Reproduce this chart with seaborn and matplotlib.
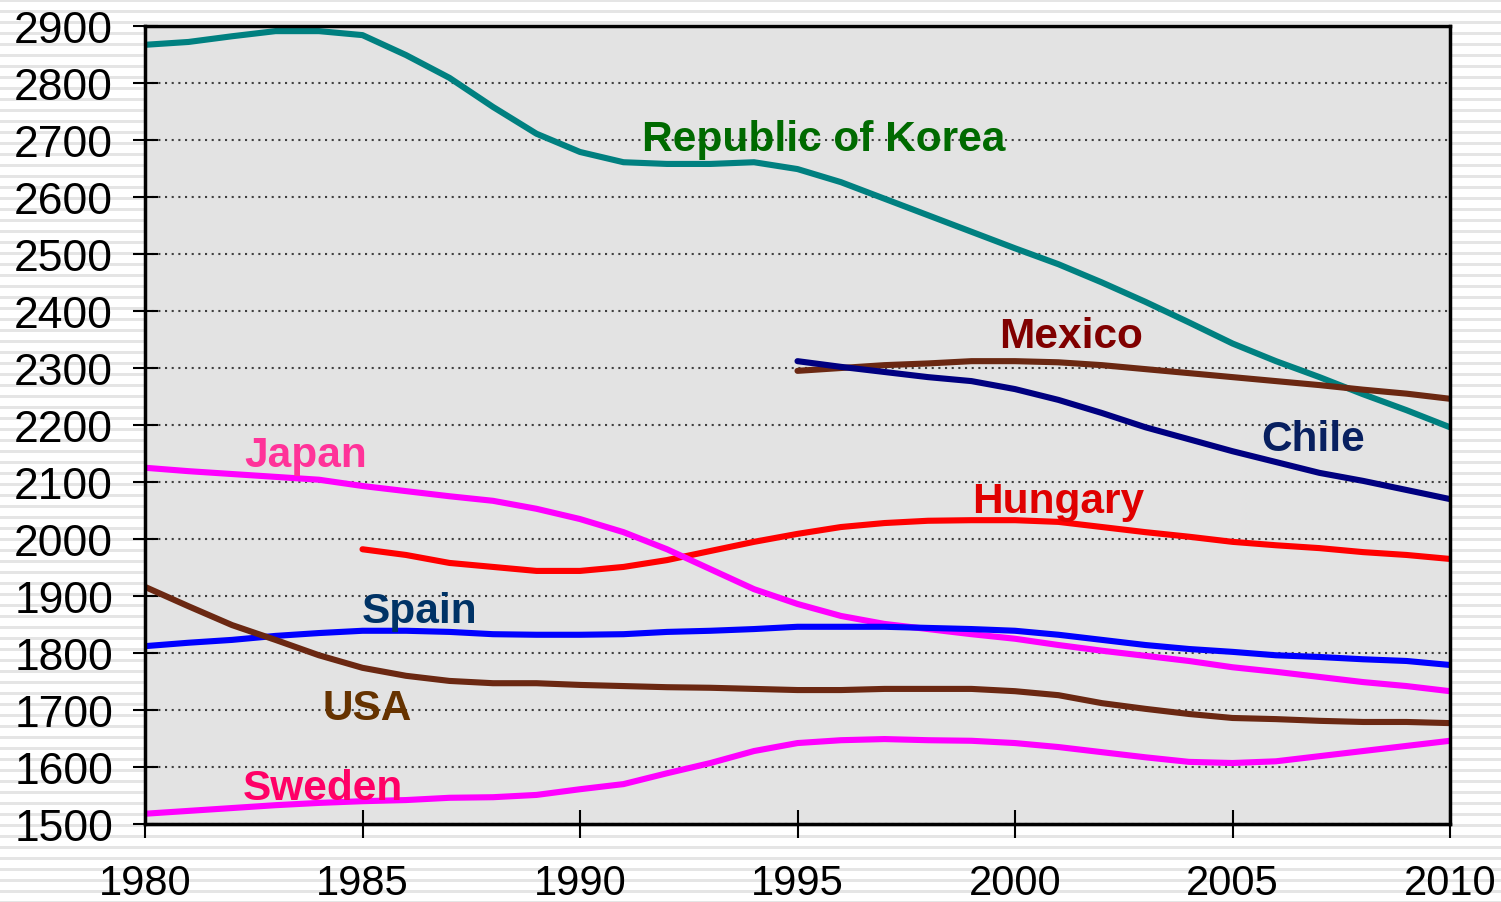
import numpy as np
import pandas as pd
import matplotlib
matplotlib.use("Agg")
import matplotlib.pyplot as plt
import seaborn as sns

years = list(range(1980, 2011))

korea = [2867, 2872, 2882, 2891, 2891, 2884, 2849, 2809, 2758, 2711, 2679, 2661, 2658, 2658, 2661,
         2649, 2626, 2597, 2568, 2539, 2510, 2482, 2450, 2416, 2380, 2343, 2312, 2284, 2254, 2226, 2196]
mexico_years = list(range(1995, 2011))
mexico = [2295, 2300, 2305, 2308, 2312, 2312, 2310, 2305, 2298, 2291, 2284, 2277, 2270, 2262, 2255, 2246]
chile_years = list(range(1995, 2011))
chile = [2312, 2302, 2293, 2284, 2277, 2263, 2244, 2221, 2196, 2175, 2154, 2135, 2116, 2102, 2086, 2070]
hungary_years = list(range(1985, 2011))
hungary = [1982, 1972, 1958, 1951, 1944, 1944, 1951, 1963, 1979, 1995, 2009, 2021, 2028, 2032, 2033,
           2033, 2030, 2021, 2012, 2004, 1995, 1989, 1984, 1977, 1972, 1965]
japan = [2125, 2119, 2114, 2109, 2104, 2093, 2084, 2075, 2067, 2053, 2035, 2012, 1982, 1947, 1912,
         1886, 1865, 1851, 1842, 1833, 1825, 1814, 1804, 1795, 1786, 1775, 1767, 1758, 1749, 1742, 1733]
spain = [1812, 1818, 1823, 1830, 1835, 1839, 1839, 1837, 1833, 1832, 1832, 1833, 1837, 1839, 1842,
         1846, 1846, 1846, 1844, 1842, 1839, 1832, 1823, 1814, 1807, 1802, 1796, 1793, 1789, 1786, 1779]
usa = [1916, 1882, 1849, 1823, 1796, 1774, 1760, 1751, 1747, 1747, 1744, 1742, 1740, 1739, 1737,
       1735, 1735, 1737, 1737, 1737, 1733, 1726, 1712, 1702, 1693, 1686, 1684, 1681, 1679, 1679, 1677]
sweden = [1518, 1523, 1528, 1533, 1537, 1540, 1542, 1546, 1547, 1551, 1561, 1570, 1589, 1607, 1628,
          1642, 1647, 1649, 1647, 1646, 1642, 1635, 1626, 1617, 1609, 1607, 1610, 1619, 1628, 1637, 1646]

series = {
    "Republic of Korea": (years, korea),
    "Mexico": (mexico_years, mexico),
    "Chile": (chile_years, chile),
    "Hungary": (hungary_years, hungary),
    "Japan": (years, japan),
    "Spain": (years, spain),
    "USA": (years, usa),
    "Sweden": (years, sweden),
}
line_colors = {
    "Republic of Korea": "#008080", "Mexico": "#6B2812", "Chile": "#000080",
    "Hungary": "#FF0000", "Japan": "#FF00FF", "Spain": "#0000FF",
    "USA": "#6B2812", "Sweden": "#FF00FF",
}
label_colors = {
    "Republic of Korea": "#006A00", "Mexico": "#800000", "Chile": "#082060",
    "Hungary": "#E00000", "Japan": "#FF3399", "Spain": "#003366",
    "USA": "#663300", "Sweden": "#FF0066",
}
label_pos = {
    "Republic of Korea": (1995.6, 2701), "Mexico": (2001.3, 2357), "Chile": (2006.85, 2175),
    "Japan": (1983.7, 2148), "Hungary": (2001.0, 2066), "Spain": (1986.3, 1873),
    "USA": (1985.1, 1703), "Sweden": (1984.1, 1564),
}
y_ticks = list(range(1500, 3000, 100))
x_ticks = [1980, 1985, 1990, 1995, 2000, 2005, 2010]

rows = []
for name, (xs, ys) in series.items():
    for x, y in zip(xs, ys):
        rows.append({"year": x, "hours": y, "country": name})
df = pd.DataFrame(rows)

sns.set_style("white")
plt.rcParams["font.family"] = ["Liberation Sans", "DejaVu Sans"]

fig = plt.figure(figsize=(15.01, 9.03), dpi=100)
fig.patch.set_facecolor("white")

# striped background
bg = fig.add_axes([0, 0, 1, 1], zorder=-10)
H = 903
stripe = np.ones((H, 1, 3))
for r in range(H):
    if r % 11 in (0, 1, 2):
        stripe[r, 0, :] = 0.90
bg.imshow(stripe, aspect="auto", extent=[0, 1, 0, 1], interpolation="nearest")
bg.set_axis_off()

ax = fig.add_axes([145 / 1501, 1 - 825 / 903, (1450 - 145) / 1501, (825 - 27) / 903])
ax.set_facecolor("#E3E3E3")

sns.lineplot(data=df, x="year", y="hours", hue="country", palette=line_colors,
             hue_order=list(series.keys()), linewidth=4.4, legend=False, ax=ax,
             estimator=None, sort=True)
for ln in ax.get_lines():
    ln.set_solid_capstyle("round")

ax.set_xlim(1980, 2010)
ax.set_ylim(1500, 2900)
ax.set_xticks(x_ticks)
ax.set_yticks(y_ticks)
ax.set_xlabel("")
ax.set_ylabel("")
ax.yaxis.grid(True, color="#404040", linestyle=(0, (1, 2.2)), linewidth=1.5)
ax.xaxis.grid(False)
ax.set_axisbelow(True)
for s in ax.spines.values():
    s.set_visible(True)
    s.set_color("black")
    s.set_linewidth(2.5)
ax.tick_params(axis="y", direction="inout", length=18, width=1.5, pad=14,
               labelsize=32, colors="black", left=True)
ax.tick_params(axis="x", direction="inout", length=20, width=1.5, pad=18,
               labelsize=30, colors="black", bottom=True)

for name, (lx, ly) in label_pos.items():
    ax.text(lx, ly, name, color=label_colors[name], fontsize=30.5, fontweight="bold",
            ha="center", va="center")

fig.savefig("out.png", dpi=100)
